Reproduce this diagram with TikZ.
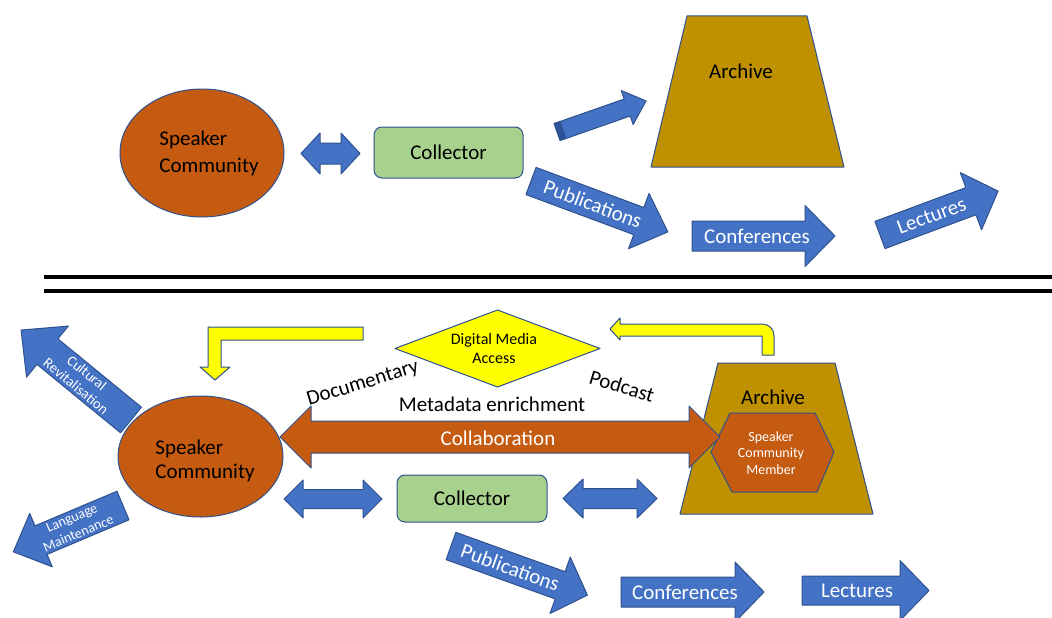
\documentclass[tikz,border=0pt]{standalone}
\usepackage{fontspec}
\setmainfont{Carlito}
\usetikzlibrary{shapes.geometric}
\definecolor{orng}{HTML}{C55A11}
\definecolor{blu}{HTML}{4472C4}
\definecolor{bdr}{HTML}{2F528F}
\definecolor{grn}{HTML}{A9D18E}
\definecolor{archgold}{HTML}{BF9000}
\definecolor{ylw}{HTML}{FFFF00}
\definecolor{dkblu}{HTML}{2E5298}
\newcommand{\blockarrow}[5]{\draw[#1] (0,-#3/2) -- (#2-#5,-#3/2) -- (#2-#5,-#4/2) -- (#2,0) -- (#2-#5,#4/2) -- (#2-#5,#3/2) -- (0,#3/2) -- cycle;}
\newcommand{\dblarrow}[5]{\draw[#1] (0,0) -- (#5,-#4/2) -- (#5,-#3/2) -- (#2-#5,-#3/2) -- (#2-#5,-#4/2) -- (#2,0) -- (#2-#5,#4/2) -- (#2-#5,#3/2) -- (#5,#3/2) -- (#5,#4/2) -- cycle;}
\tikzset{
  shp/.style={draw=bdr, line width=1pt, line join=round},
  blk/.style={shp, fill=blu},
  wt/.style={text=white, font=\fontsize{21}{25}\selectfont, inner sep=0pt},
  bt/.style={text=black, font=\fontsize{21}{25}\selectfont, inner sep=0pt},
  ellnode/.style={ellipse, shp, fill=orng, inner sep=0pt},
  colbox/.style={rectangle, rounded corners=8pt, shp, fill=grn, inner sep=0pt, text=black, font=\fontsize{21}{25}\selectfont},
  yarrow/.style={shp, fill=ylw},
  divider/.style={line width=3.5pt, black}
}
\begin{document}
\begin{tikzpicture}[x=1pt,y=-1pt]
\useasboundingbox (0,0) rectangle (1052,618);
\clip (0,0) rectangle (1052,618);
\fill[white] (0,0) rectangle (1052,618);

% ================= TOP =================
\node[ellnode, minimum width=164pt, minimum height=128pt] (sc1) at (202,153) {};
\node[bt, align=left, font=\fontsize{21}{27}\selectfont] (sc1t) at (209,153) {Speaker\\Community};

\begin{scope}[shift={(301,153.5)}]
  \dblarrow{blk}{59}{21}{41}{19}
\end{scope}

\node[colbox, minimum width=149pt, minimum height=51pt] (col1) at (448.5,152.5) {Collector};

% 3D arrow towards archive
\draw[shp, fill=dkblu] (560,121.5) -- (566,138.5) -- (560,140.5) -- (554,123.5) -- cycle;
\begin{scope}[shift={(563,130)}, rotate=19.3]
  \blockarrow{blk}{88}{18}{36}{20}
\end{scope}

\draw[shp, fill=archgold] (687,16) -- (807,16) -- (844,167) -- (651,167) -- cycle;
\node[bt] (arch1) at (741,71) {Archive};

\begin{scope}[shift={(531,181)}, rotate=-20.4]
  \blockarrow{blk}{146}{29}{59}{31}
  \node[wt, rotate=-20.4] (pub1) at (66,0) {Publications};
\end{scope}

\begin{scope}[shift={(692,236)}]
  \blockarrow{blk}{143}{30}{61}{30}
  \node[wt] (conf1) at (65,0) {Conferences};
\end{scope}

\begin{scope}[shift={(880,235)}, rotate=20.4]
  \blockarrow{blk}{126}{29}{61}{29}
  \node[wt, rotate=20.4] (lect1) at (55,0) {Lectures};
\end{scope}

% ================= DIVIDER =================
\draw[divider] (44,277) -- (1052,277);
\draw[divider] (44,291) -- (1052,291);

% ================= BOTTOM =================
% yellow bent arrow (left)
\draw[yarrow] (363,327) -- (208,327) -- (208,367) -- (200,367) -- (215,380) -- (230,367) -- (221,367) -- (221,340) -- (363,340) -- cycle;

% yellow bent arrow (right)
\draw[yarrow] (610,329) -- (620,318) -- (620,324) -- (762,324) .. controls (769,324) and (774,329) .. (774,336) -- (774,355) -- (762,355) -- (762,336) -- (620,336) -- (620,340) -- cycle;

% digital media access diamond
\draw[shp, fill=ylw] (395,348.5) -- (497.5,310) -- (600,348.5) -- (497.5,387) -- cycle;
\node[text=black, inner sep=0pt, align=center, font=\fontsize{16}{19}\selectfont] (dma) at (494,349) {Digital Media\\Access};

\node[bt, rotate=17] (doc) at (363,384) {Documentary};
\node[bt, rotate=-17] (pod) at (622,386) {Podcast};
\node[bt] (meta) at (492,404) {Metadata enrichment};

% cultural revitalisation
\begin{scope}[shift={(131,420)}, rotate=140.7]
  \blockarrow{blk}{142}{33}{66}{34}
  \node[wt, rotate=-39.3, align=center, font=\fontsize{14.5}{17}\selectfont] (cult) at (64,0) {Cultural\\Revitalisation};
\end{scope}

% language maintenance
\begin{scope}[shift={(123,505.5)}, rotate=202.9]
  \blockarrow{blk}{119}{31}{58}{30}
  \node[wt, rotate=22.9, align=center, font=\fontsize{14}{17}\selectfont] (lang) at (52,0) {Language\\Maintenance};
\end{scope}

\node[ellnode, minimum width=165pt, minimum height=121pt] (sc2) at (200.5,456.5) {};
\node[bt, align=left, font=\fontsize{21}{24}\selectfont] (sc2t) at (205,461) {Speaker\\Community};

% archive (bottom)
\draw[shp, fill=archgold] (718,363) -- (835,363) -- (873,514) -- (680,514) -- cycle;
\node[bt] (arch2) at (773,397) {Archive};
\draw[shp, fill=orng] (711,452) -- (730,413) -- (815,413) -- (834,452) -- (817,492) -- (732,492) -- cycle;
\node[wt, align=center, font=\fontsize{14}{16.5}\selectfont] (scm) at (771,453) {Speaker\\Community\\Member};

% collaboration
\begin{scope}[shift={(280,437)}]
  \dblarrow{shp, fill=orng}{440}{32}{62}{31}
\end{scope}
\node[wt] (collab) at (498,438) {Collaboration};

% collector row
\begin{scope}[shift={(284,499)}]
  \dblarrow{blk}{98}{19}{38}{19}
\end{scope}
\node[colbox, minimum width=150pt, minimum height=47pt] (col2) at (472,498.5) {Collector};
\begin{scope}[shift={(563,498.5)}]
  \dblarrow{blk}{94}{20}{39}{20}
\end{scope}

% outputs
\begin{scope}[shift={(451,546)}, rotate=-19.8]
  \blockarrow{blk}{145}{29}{60}{29}
  \node[wt, rotate=-19.8] (pub2) at (63,0) {Publications};
\end{scope}
\begin{scope}[shift={(621,592)}]
  \blockarrow{blk}{143}{30}{60}{29}
  \node[wt] (conf2) at (64,0) {Conferences};
\end{scope}
\begin{scope}[shift={(802,590.5)}]
  \blockarrow{blk}{127}{29}{60}{29}
  \node[wt] (lect2) at (55,0) {Lectures};
\end{scope}
\end{tikzpicture}
\end{document}
